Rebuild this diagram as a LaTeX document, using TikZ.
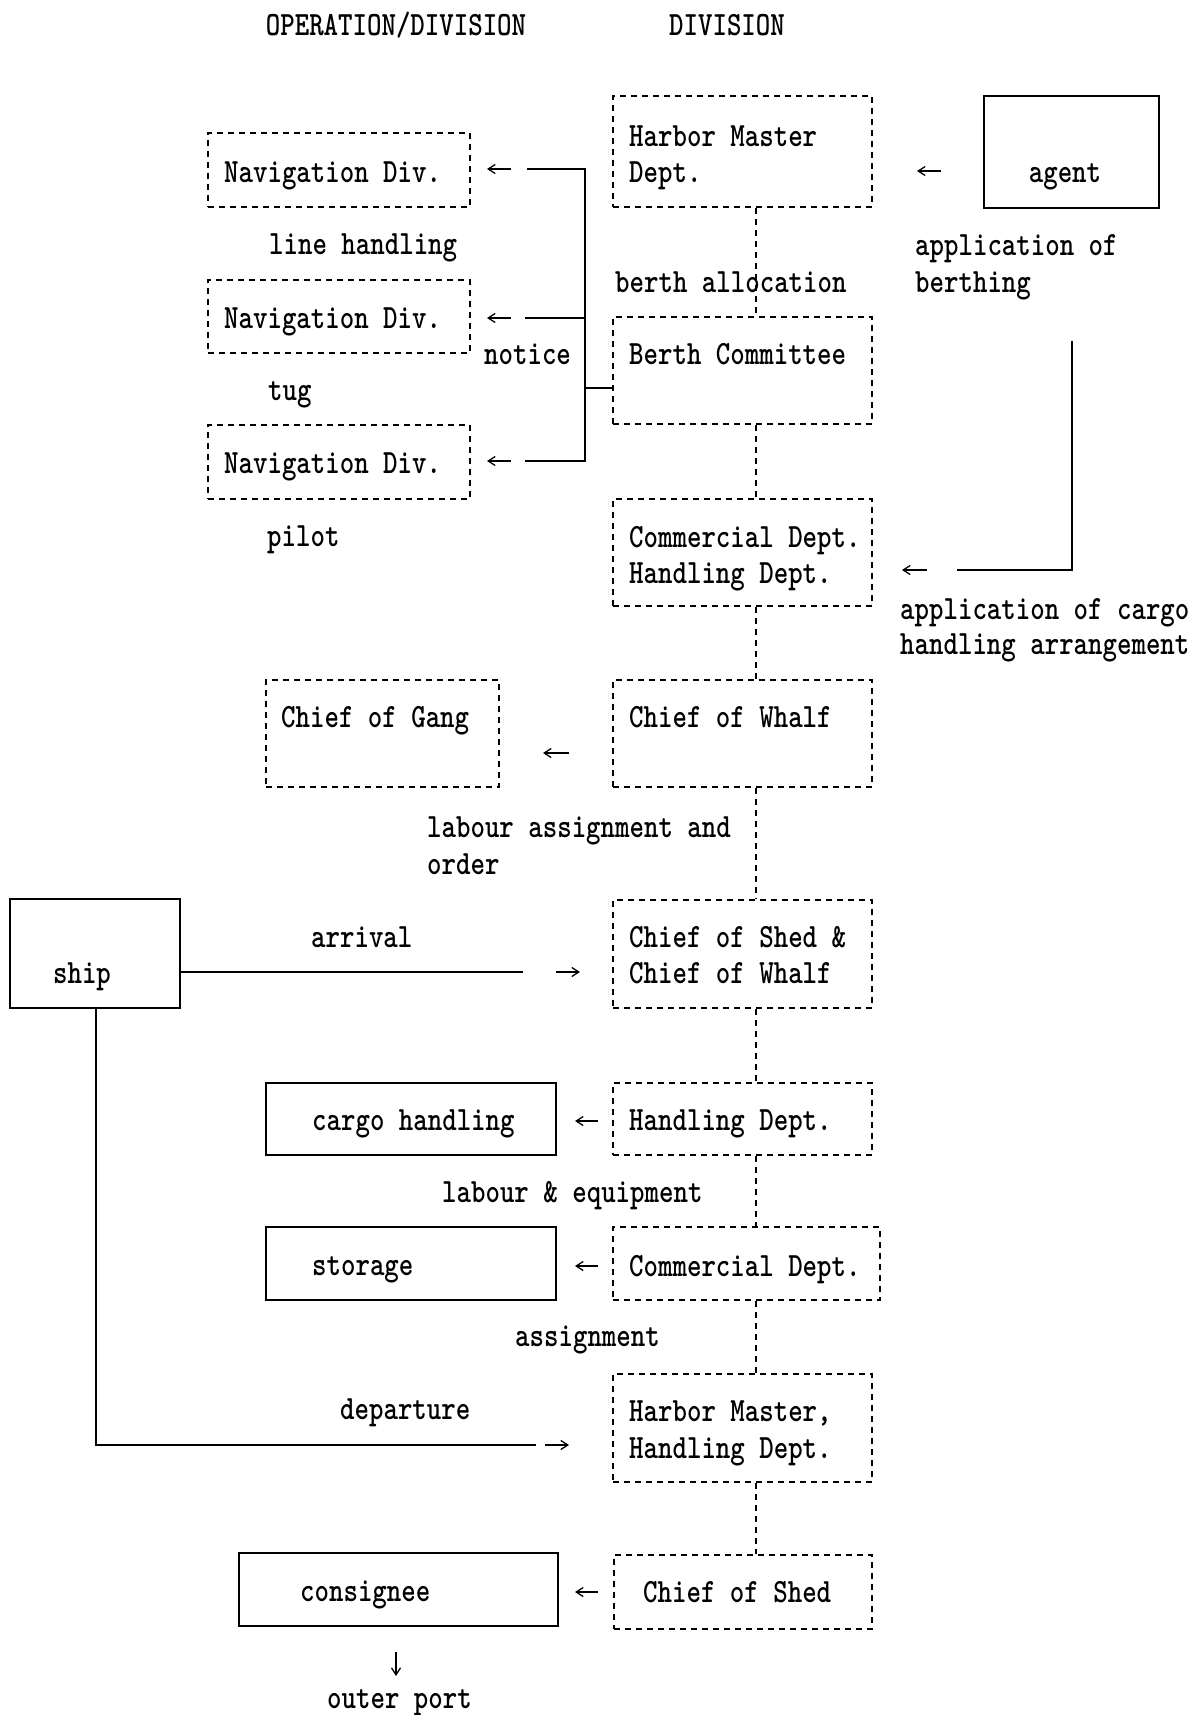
\documentclass[tikz,border=0pt]{standalone}
\usepackage{graphicx}
\usetikzlibrary{arrows.meta,calc}
\newcommand{\tw}[1]{\scalebox{0.81}[1]{#1}}
\tikzset{
  dbox/.style={draw, dash pattern=on 6pt off 5pt, line width=1.5pt, rectangle, inner sep=0pt},
  sbox/.style={draw, line width=1.6pt, rectangle, inner sep=0pt},
  tx/.style={font=\fontsize{34}{40}\selectfont\ttfamily\bfseries, inner sep=0pt, anchor=mid west, yshift=-6pt},
  txc/.style={font=\fontsize{34}{40}\selectfont\ttfamily\bfseries, inner sep=0pt, anchor=mid, yshift=-6pt},
  ln/.style={line width=1.3pt},
  dl/.style={line width=2.6pt, dash pattern=on 6pt off 5pt},
  arr/.style={line width=1.3pt, -{Straight Barb[length=7pt,width=9pt]}},
}
\begin{document}
\begin{tikzpicture}[x=1pt,y=-1pt]
\useasboundingbox (0,0) rectangle (1203,1715);
\fill[white] (0,0) rectangle (1203,1715);

% headers
\node[txc] (h1) at (396,27) {\tw{OPERATION/DIVISION}};
\node[txc] (h2) at (727,27) {\tw{DIVISION}};

% right column dashed boxes
\node[dbox, minimum width=259pt, minimum height=111pt] (hm) at (742.5,151.5) {};
\node[dbox, minimum width=259pt, minimum height=107pt] (bc) at (742.5,370.5) {};
\node[dbox, minimum width=259pt, minimum height=107pt] (cd) at (742.5,552.5) {};
\node[dbox, minimum width=259pt, minimum height=107pt] (cw) at (742.5,733.5) {};
\node[dbox, minimum width=259pt, minimum height=108pt] (cs) at (742.5,954) {};
\node[dbox, minimum width=259pt, minimum height=72pt] (hd) at (742.5,1119) {};
\node[dbox, minimum width=267pt, minimum height=73pt] (cm) at (746.5,1263.5) {};
\node[dbox, minimum width=259pt, minimum height=108pt] (hh) at (742.5,1428) {};
\node[dbox, minimum width=258pt, minimum height=74pt] (sh) at (743,1592) {};

% left dashed boxes
\node[dbox, minimum width=262pt, minimum height=74pt] (nav1) at (339,170) {};
\node[dbox, minimum width=262pt, minimum height=73pt] (nav2) at (339,316.5) {};
\node[dbox, minimum width=262pt, minimum height=74pt] (nav3) at (339,462) {};
\node[dbox, minimum width=233pt, minimum height=107pt] (cg) at (382.5,733.5) {};

% solid boxes
\node[sbox, minimum width=175pt, minimum height=112pt] (agent) at (1071.5,152) {};
\node[sbox, minimum width=170pt, minimum height=109pt] (ship) at (95,953.5) {};
\node[sbox, minimum width=290pt, minimum height=72pt] (ch) at (411,1119) {};
\node[sbox, minimum width=290pt, minimum height=73pt] (st) at (411,1263.5) {};
\node[sbox, minimum width=319pt, minimum height=73pt] (cn) at (398.5,1589.5) {};

% box texts
\node[tx] (thm1) at (629,138) {\tw{Harbor Master}};
\node[tx] (thm2) at (629,174) {\tw{Dept.}};
\node[tx] (tbc) at (629,356) {\tw{Berth Committee}};
\node[tx] (tcd1) at (629,539) {\tw{Commercial Dept.}};
\node[tx] (tcd2) at (629,575) {\tw{Handling Dept.}};
\node[tx] (tcw) at (629,719) {\tw{Chief of Whalf}};
\node[tx] (tcs1) at (629,939) {\tw{Chief of Shed \&}};
\node[tx] (tcs2) at (629,975) {\tw{Chief of Whalf}};
\node[tx] (thd) at (629,1122) {\tw{Handling Dept.}};
\node[tx] (tcm) at (629,1268) {\tw{Commercial Dept.}};
\node[tx] (thh1) at (629,1413) {\tw{Harbor Master,}};
\node[tx] (thh2) at (629,1450) {\tw{Handling Dept.}};
\node[tx] (tsh) at (643,1594) {\tw{Chief of Shed}};
\node[tx] (tn1) at (224,174) {\tw{Navigation Div.}};
\node[tx] (tn2) at (224,320) {\tw{Navigation Div.}};
\node[tx] (tn3) at (224,465) {\tw{Navigation Div.}};
\node[tx] (tcg) at (281,719) {\tw{Chief of Gang}};
\node[txc] (tag) at (1065,174) {\tw{agent}};
\node[txc] (tsp) at (82,975) {\tw{ship}};
\node[tx] (tch) at (312,1122) {\tw{cargo handling}};
\node[tx] (tst) at (312,1267) {\tw{storage}};
\node[tx] (tcn) at (300,1593) {\tw{consignee}};

% free labels
\node[tx] (l1) at (269,246) {\tw{line handling}};
\node[tx] (l2) at (268,392) {\tw{tug}};
\node[tx] (l3) at (267,538) {\tw{pilot}};
\node[tx] (l4) at (484,356) {\tw{notice}};
\node[tx] (l5) at (615,284) {\tw{berth allocation}};
\node[tx] (l6) at (915,247) {\tw{application of}};
\node[tx] (l7) at (915,284) {\tw{berthing}};
\node[tx] (l8) at (900,611) {\tw{application of cargo}};
\node[tx] (l9) at (900,646) {\tw{handling arrangement}};
\node[tx] (l10) at (427,829) {\tw{labour assignment and}};
\node[tx] (l11) at (427,866) {\tw{order}};
\node[tx] (l12) at (311,939) {\tw{arrival}};
\node[tx] (l13) at (442,1194) {\tw{labour \& equipment}};
\node[tx] (l14) at (515,1338) {\tw{assignment}};
\node[tx] (l15) at (340,1411) {\tw{departure}};
\node[tx] (l16) at (327,1700) {\tw{outer port}};

% vertical dotted chain
\coordinate (vx) at (756,0);
\draw[dl] (hm.south -| vx) -- (bc.north -| vx);
\draw[dl] (bc.south -| vx) -- (cd.north -| vx);
\draw[dl] (cd.south -| vx) -- (cw.north -| vx);
\draw[dl] (cw.south -| vx) -- (cs.north -| vx);
\draw[dl] (cs.south -| vx) -- (hd.north -| vx);
\draw[dl] (hd.south -| vx) -- (cm.north -| vx);
\draw[dl] (cm.south -| vx) -- (hh.north -| vx);
\draw[dl] (hh.south -| vx) -- (sh.north -| vx);

% notice bracket
\coordinate (b1) at (527,169);
\coordinate (b2) at (525,318);
\coordinate (b3) at (525,461);
\coordinate (j1) at (585,169);
\coordinate (j2) at (585,318);
\coordinate (j3) at (585,461);
\coordinate (j4) at (585,388);
\draw[ln] (b1) -- (j1) -- (j3) -- (b3);
\draw[ln] (b2) -- (j2);
\draw[ln] (j4) -- (j4 -| bc.west);
\coordinate (a1) at (511,169); \coordinate (a1e) at (487,169);
\coordinate (a2) at (511,318); \coordinate (a2e) at (487,318);
\coordinate (a3) at (511,461); \coordinate (a3e) at (487,461);
\draw[arr] (a1) -- (a1e);
\draw[arr] (a2) -- (a2e);
\draw[arr] (a3) -- (a3e);

% agent arrow
\coordinate (ag1) at (941,171); \coordinate (ag2) at (917,171);
\draw[arr] (ag1) -- (ag2);

% cargo application line
\coordinate (c1) at (1072,341);
\coordinate (c2) at (1072,570);
\coordinate (c3) at (957,570);
\draw[ln] (c1) -- (c2) -- (c3);
\coordinate (c4) at (927,570); \coordinate (c5) at (902,570);
\draw[arr] (c4) -- (c5);

% chief of gang arrow
\coordinate (g1) at (569,753); \coordinate (g2) at (543,753);
\draw[arr] (g1) -- (g2);

% arrival
\coordinate (r1) at (523,972);
\draw[ln] (ship.east |- r1) -- (r1);
\coordinate (r2) at (556,972); \coordinate (r3) at (580,972);
\draw[arr] (r2) -- (r3);

% departure
\coordinate (d1) at (96,1445);
\coordinate (d2) at (536,1445);
\draw[ln] (ship.south -| d1) -- (d1) -- (d2);
\coordinate (d3) at (545,1445); \coordinate (d4) at (569,1445);
\draw[arr] (d3) -- (d4);

% left arrows to solid boxes
\coordinate (e1) at (598,1121); \coordinate (e2) at (575,1121);
\draw[arr] (e1) -- (e2);
\coordinate (e3) at (598,1266); \coordinate (e4) at (575,1266);
\draw[arr] (e3) -- (e4);
\coordinate (e5) at (598,1592); \coordinate (e6) at (575,1592);
\draw[arr] (e5) -- (e6);

% outer port arrow
\coordinate (o1) at (396,1652); \coordinate (o2) at (396,1676);
\draw[arr] (o1) -- (o2);
\end{tikzpicture}
\end{document}
